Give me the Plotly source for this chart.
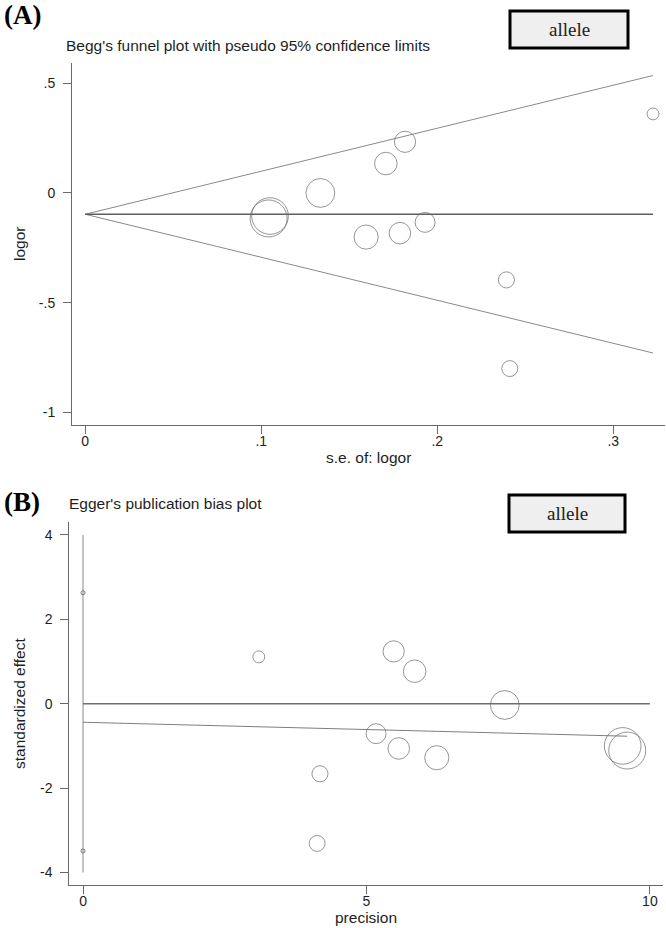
import plotly.graph_objects as go

# ---------------- Panel A: Begg's funnel plot ----------------
se_logor = [0.3226, 0.1817, 0.1708, 0.1336, 0.1050, 0.1042, 0.1596, 0.1788, 0.1931, 0.2393, 0.2412]
logor = [0.360, 0.233, 0.134, 0.000, -0.105, -0.116, -0.201, -0.183, -0.134, -0.396, -0.800]
study_weight = [9.6, 30.3, 34.3, 56.0, 90.6, 92.1, 39.3, 31.3, 26.8, 17.5, 17.2]

pooled_se = [0, 0.3226]
pooled_logor = [-0.097, -0.097]
upper_limit = [-0.097, 0.535]
lower_limit = [-0.097, -0.729]

a_xticks = [0, 0.1, 0.2, 0.3]
a_xlabels = ["0", ".1", ".2", ".3"]
a_yticks = [-1, -0.5, 0, 0.5]
a_ylabels = ["-1", "-.5", "0", ".5"]

# ---------------- Panel B: Egger's plot ----------------
precision = [3.10, 5.48, 5.85, 7.44, 9.52, 9.60, 6.24, 5.57, 5.17, 4.18, 4.13]
std_effect = [1.11, 1.24, 0.77, -0.03, -1.00, -1.11, -1.28, -1.06, -0.71, -1.66, -3.31]
fit_precision = [0, 9.60]
fit_effect = [-0.44, -0.77]
ref_precision = [0, 10]
ref_effect = [0, 0]
ci_precision = [0, 0]
ci_effect = [4, -4]
ci_bound_prec = [0, 0]
ci_bounds = [2.63, -3.49]

b_xticks = [0, 5, 10]
b_xlabels = ["0", "5", "10"]
b_yticks = [-4, -2, 0, 2, 4]
b_ylabels = ["-4", "-2", "0", "2", "4"]

W, H = 666, 928
SANS = "Liberation Sans, Arial, sans-serif"
SERIF = "Liberation Serif, Times New Roman, serif"
AXC = "#6a6a6a"

def px(x):
    return x / W

def py(y):
    return 1 - y / H

circ = dict(symbol="circle-open", size=study_weight, sizemode="area",
            sizeref=2 / 3.85 ** 2, color="#6a6a6a", line=dict(width=1))

fig = go.Figure()
# Panel A lines
fig.add_trace(go.Scatter(x=pooled_se, y=upper_limit, mode="lines",
                         line=dict(color="#8a8a8a", width=1), xaxis="x", yaxis="y"))
fig.add_trace(go.Scatter(x=pooled_se, y=lower_limit, mode="lines",
                         line=dict(color="#8a8a8a", width=1), xaxis="x", yaxis="y"))
fig.add_trace(go.Scatter(x=pooled_se, y=pooled_logor, mode="lines",
                         line=dict(color="#5e5e5e", width=1.3), xaxis="x", yaxis="y"))
fig.add_trace(go.Scatter(x=se_logor, y=logor, mode="markers", marker=circ,
                         xaxis="x", yaxis="y"))
# Panel B lines
fig.add_trace(go.Scatter(x=ci_precision, y=ci_effect, mode="lines",
                         line=dict(color="#8a8a8a", width=1), xaxis="x2", yaxis="y2"))
fig.add_trace(go.Scatter(x=ci_bound_prec, y=ci_bounds, mode="markers",
                         marker=dict(symbol="circle-open", size=4, color="#7a7a7a",
                                     line=dict(width=1)), xaxis="x2", yaxis="y2"))
fig.add_trace(go.Scatter(x=ref_precision, y=ref_effect, mode="lines",
                         line=dict(color="#6e6e6e", width=1.5), xaxis="x2", yaxis="y2"))
fig.add_trace(go.Scatter(x=fit_precision, y=fit_effect, mode="lines",
                         line=dict(color="#7e7e7e", width=1), xaxis="x2", yaxis="y2"))
fig.add_trace(go.Scatter(x=precision, y=std_effect, mode="markers", marker=circ,
                         xaxis="x2", yaxis="y2"))

axis_common = dict(showline=True, linecolor=AXC, linewidth=1, ticks="outside",
                   ticklen=8, tickcolor=AXC, tickwidth=1, showgrid=False,
                   zeroline=False, mirror=False,
                   tickfont=dict(family=SANS, size=14, color="#1e1e1e"))

fig.update_layout(
    width=W, height=H, margin=dict(l=0, r=0, t=0, b=0),
    paper_bgcolor="white", plot_bgcolor="white", showlegend=False,
    xaxis=dict(domain=[px(72), px(665)], range=[-0.0075, 0.3294], anchor="y",
               tickvals=a_xticks, ticktext=a_xlabels, ticklabelstandoff=-5, **axis_common),
    yaxis=dict(domain=[py(425), py(63)], range=[-1.057, 0.592], anchor="x",
               tickvals=a_yticks, ticktext=a_ylabels, ticklabelstandoff=5, **axis_common),
    xaxis2=dict(domain=[px(69.3), px(663)], range=[-0.242, 10.231], anchor="y2",
                tickvals=b_xticks, ticktext=b_xlabels, ticklabelstandoff=-5, **axis_common),
    yaxis2=dict(domain=[py(885.3), py(522)], range=[-4.303, 4.306], anchor="x2",
                tickvals=b_yticks, ticktext=b_ylabels, ticklabelstandoff=5, **axis_common),
)

def note(text, x, y, size, family=SANS, bold=False, angle=0, xanchor="left", color="#1e1e1e"):
    fig.add_annotation(text=f"<b>{text}</b>" if bold else text, x=px(x), y=py(y),
                       xref="paper", yref="paper", showarrow=False, xanchor=xanchor,
                       yanchor="middle", textangle=angle,
                       font=dict(family=family, size=size, color=color))

# Panel labels and titles
note("(A)", 2, 15, 27, family=SERIF, bold=True, color="black")
note("(B)", 2, 502, 27, family=SERIF, bold=True, color="black")
note("Begg's funnel plot with pseudo 95% confidence limits", 64, 45, 15.5)
note("Egger's publication bias plot", 67, 503, 15.5)
note("logor", 19, 244, 15.5, angle=-90, xanchor="center")
note("s.e. of: logor", 368, 457, 15.5, xanchor="center")
note("standardized effect", 19, 704, 15.5, angle=-90, xanchor="center")
note("precision", 366, 917, 15.5, xanchor="center")

# "allele" boxes
for (x0, y0, x1, y1) in [(510, 11, 628, 48), (509, 495, 625, 532)]:
    fig.add_shape(type="rect", xref="paper", yref="paper",
                  x0=px(x0), x1=px(x1), y0=py(y1), y1=py(y0),
                  line=dict(color="black", width=3), fillcolor="#efefef")
    note("allele", (x0 + x1) / 2, (y0 + y1) / 2, 19, family=SERIF,
         xanchor="center", color="#222222")

fig.write_html("out.html", config={"displayModeBar": False},
               post_script="document.body.style.margin='0';document.body.style.overflow='hidden';")
